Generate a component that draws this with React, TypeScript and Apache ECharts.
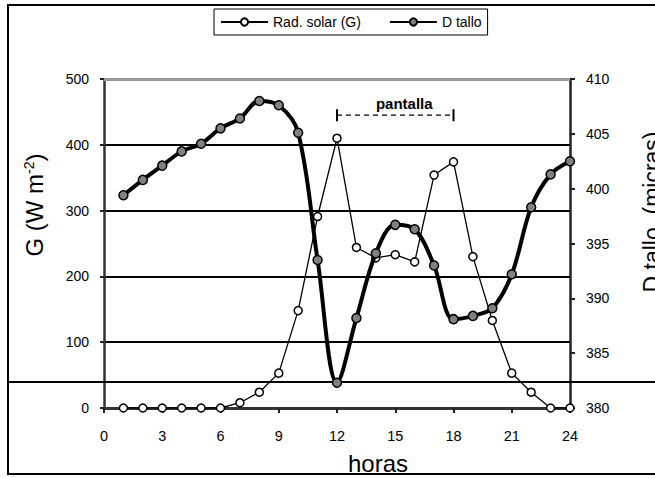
import React, { useEffect, useRef } from "react";
import * as echarts from "echarts";

const hours = [1, 2, 3, 4, 5, 6, 7, 8, 9, 10, 11, 12, 13, 14, 15, 16, 17, 18, 19, 20, 21, 22, 23, 24];
const radSolar = [0, 0, 0, 0, 0, 0, 8, 24, 53, 148, 291, 410, 244, 228, 233, 222, 354, 374, 230, 133, 53, 24, 0, 0];
const dTallo = [399.4, 400.8, 402.1, 403.4, 404.1, 405.5, 406.4, 408.0, 407.6, 405.1, 393.5, 382.3, 388.2, 394.1, 396.7, 396.3, 393.0, 388.1, 388.4, 389.1, 392.2, 398.3, 401.3, 402.5];
const seriesNames = ["Rad. solar (G)", "D tallo"];
const screenLabel = "pantalla";
const screenStart = 12;
const screenEnd = 18;
const screenLevel = 445;
const xTitle = "horas";
const yLeftTitle = "G (W m{sup|-2})";
const yRightTitle = "D tallo  (micras)";

const FONT = 'Arial, "Liberation Sans", sans-serif';

export default function App() {
  const ref = useRef<HTMLDivElement>(null);
  useEffect(() => {
    const chart = echarts.init(ref.current!, null, { renderer: "svg" });
    chart.setOption({
      animation: false,
      textStyle: { fontFamily: FONT, color: "#000" },
      grid: { left: 104, right: 85, top: 79, bottom: 70 },
      legend: {
        left: 214,
        top: 9,
        padding: [6, 6],
        itemGap: 28,
        itemWidth: 47,
        itemHeight: 9,
        borderColor: "#000",
        borderWidth: 1,
        backgroundColor: "#fff",
        textStyle: { fontSize: 14, color: "#000", fontFamily: FONT },
        data: seriesNames,
      },
      xAxis: {
        type: "value",
        min: 0,
        max: 24,
        interval: 3,
        axisLine: { show: true, lineStyle: { color: "#333", width: 3 } },
        axisTick: { show: true, length: 5, lineStyle: { color: "#222", width: 2 } },
        axisLabel: { fontSize: 14.5, color: "#000", margin: 20, fontFamily: FONT },
        splitLine: { show: false },
      },
      yAxis: [
        {
          type: "value",
          min: 0,
          max: 500,
          interval: 100,
          axisLine: { show: true, lineStyle: { color: "#333", width: 2.5 } },
          axisTick: { show: true, length: 4, lineStyle: { color: "#222", width: 2 } },
          axisLabel: { fontSize: 14, color: "#000", margin: 15, fontFamily: FONT },
          splitLine: { show: true, lineStyle: { color: "#000", width: 2 } },
        },
        {
          type: "value",
          min: 380,
          max: 410,
          interval: 5,
          position: "right",
          axisLine: { show: true, onZero: false, lineStyle: { color: "#222", width: 2.5 } },
          axisTick: { show: true, length: 5, lineStyle: { color: "#222", width: 2 } },
          axisLabel: { fontSize: 14, color: "#000", margin: 16, fontFamily: FONT },
          splitLine: { show: false },
        },
      ],
      series: [
        {
          name: seriesNames[0],
          type: "line",
          yAxisIndex: 0,
          data: hours.map((h, i) => [h, radSolar[i]]),
          symbol: "circle",
          symbolSize: 8,
          itemStyle: { color: "#fff", borderColor: "#000", borderWidth: 1.5 },
          lineStyle: { color: "#000", width: 1.3 },
          z: 3,
          markLine: {
            silent: true,
            symbol: "none",
            label: { show: false },
            lineStyle: { color: "#999", width: 3, type: "solid" },
            data: [{ yAxis: 500 }],
          },
        },
        {
          name: seriesNames[1],
          type: "line",
          yAxisIndex: 1,
          data: hours.map((h, i) => [h, dTallo[i]]),
          smooth: 0.35,
          symbol: "circle",
          symbolSize: 9,
          itemStyle: { color: "#808080", borderColor: "#000", borderWidth: 1.5 },
          lineStyle: { color: "#000", width: 4 },
          z: 4,
        },
      ],
    });

    const p = (x: number, y: number, idx: number) =>
      chart.convertToPixel({ xAxisIndex: 0, yAxisIndex: idx }, [x, y]) as number[];
    const a = p(screenStart, screenLevel, 0);
    const b = p(screenEnd, screenLevel, 0);
    const minY = p(0, Math.min(...dTallo), 1)[1] - 0.8;

    chart.setOption({
      graphic: [
        {
          type: "rect",
          silent: true,
          shape: { x: 8, y: 5, width: 700, height: 469 },
          style: { fill: "none", stroke: "#000", lineWidth: 2 },
          z: 100,
        },
        {
          type: "line",
          silent: true,
          shape: { x1: 8, y1: minY, x2: 660, y2: minY },
          style: { stroke: "#000", lineWidth: 2 },
          z: 1,
        },
        {
          type: "line",
          silent: true,
          shape: { x1: a[0], y1: a[1], x2: b[0], y2: b[1] },
          style: { stroke: "#000", lineWidth: 1.2, lineDash: [5, 4] },
        },
        {
          type: "line",
          silent: true,
          shape: { x1: a[0], y1: a[1] - 6, x2: a[0], y2: a[1] + 6 },
          style: { stroke: "#000", lineWidth: 2 },
        },
        {
          type: "line",
          silent: true,
          shape: { x1: b[0], y1: b[1] - 6, x2: b[0], y2: b[1] + 6 },
          style: { stroke: "#000", lineWidth: 2 },
        },
        {
          type: "text",
          silent: true,
          x: (a[0] + b[0]) / 2 + 9,
          y: a[1] - 12,
          style: {
            text: screenLabel,
            fontSize: 15,
            fontWeight: "bold",
            fontFamily: FONT,
            fill: "#000",
            align: "center",
            verticalAlign: "middle",
          },
        },
        {
          type: "text",
          silent: true,
          x: 378,
          y: 463,
          style: {
            text: xTitle,
            fontSize: 24,
            fontFamily: FONT,
            fill: "#000",
            align: "center",
            verticalAlign: "middle",
          },
        },
        {
          type: "text",
          silent: true,
          x: 34,
          y: 205,
          rotation: Math.PI / 2,
          style: {
            text: yLeftTitle,
            fontSize: 24,
            fontFamily: FONT,
            fill: "#000",
            align: "center",
            verticalAlign: "middle",
            rich: {
              sup: { fontSize: 14, fontFamily: FONT, fill: "#000", verticalAlign: "top", padding: [0, 0, 10, 0] },
            },
          },
        },
        {
          type: "text",
          silent: true,
          x: 652,
          y: 212,
          rotation: Math.PI / 2,
          style: {
            text: yRightTitle,
            fontSize: 23,
            fontFamily: FONT,
            fill: "#000",
            align: "center",
            verticalAlign: "middle",
          },
        },
      ],
    });

    return () => chart.dispose();
  }, []);
  return (
    <div
      ref={ref}
      style={{ position: "absolute", left: 0, top: 0, width: 655, height: 478, background: "#fff" }}
    />
  );
}
